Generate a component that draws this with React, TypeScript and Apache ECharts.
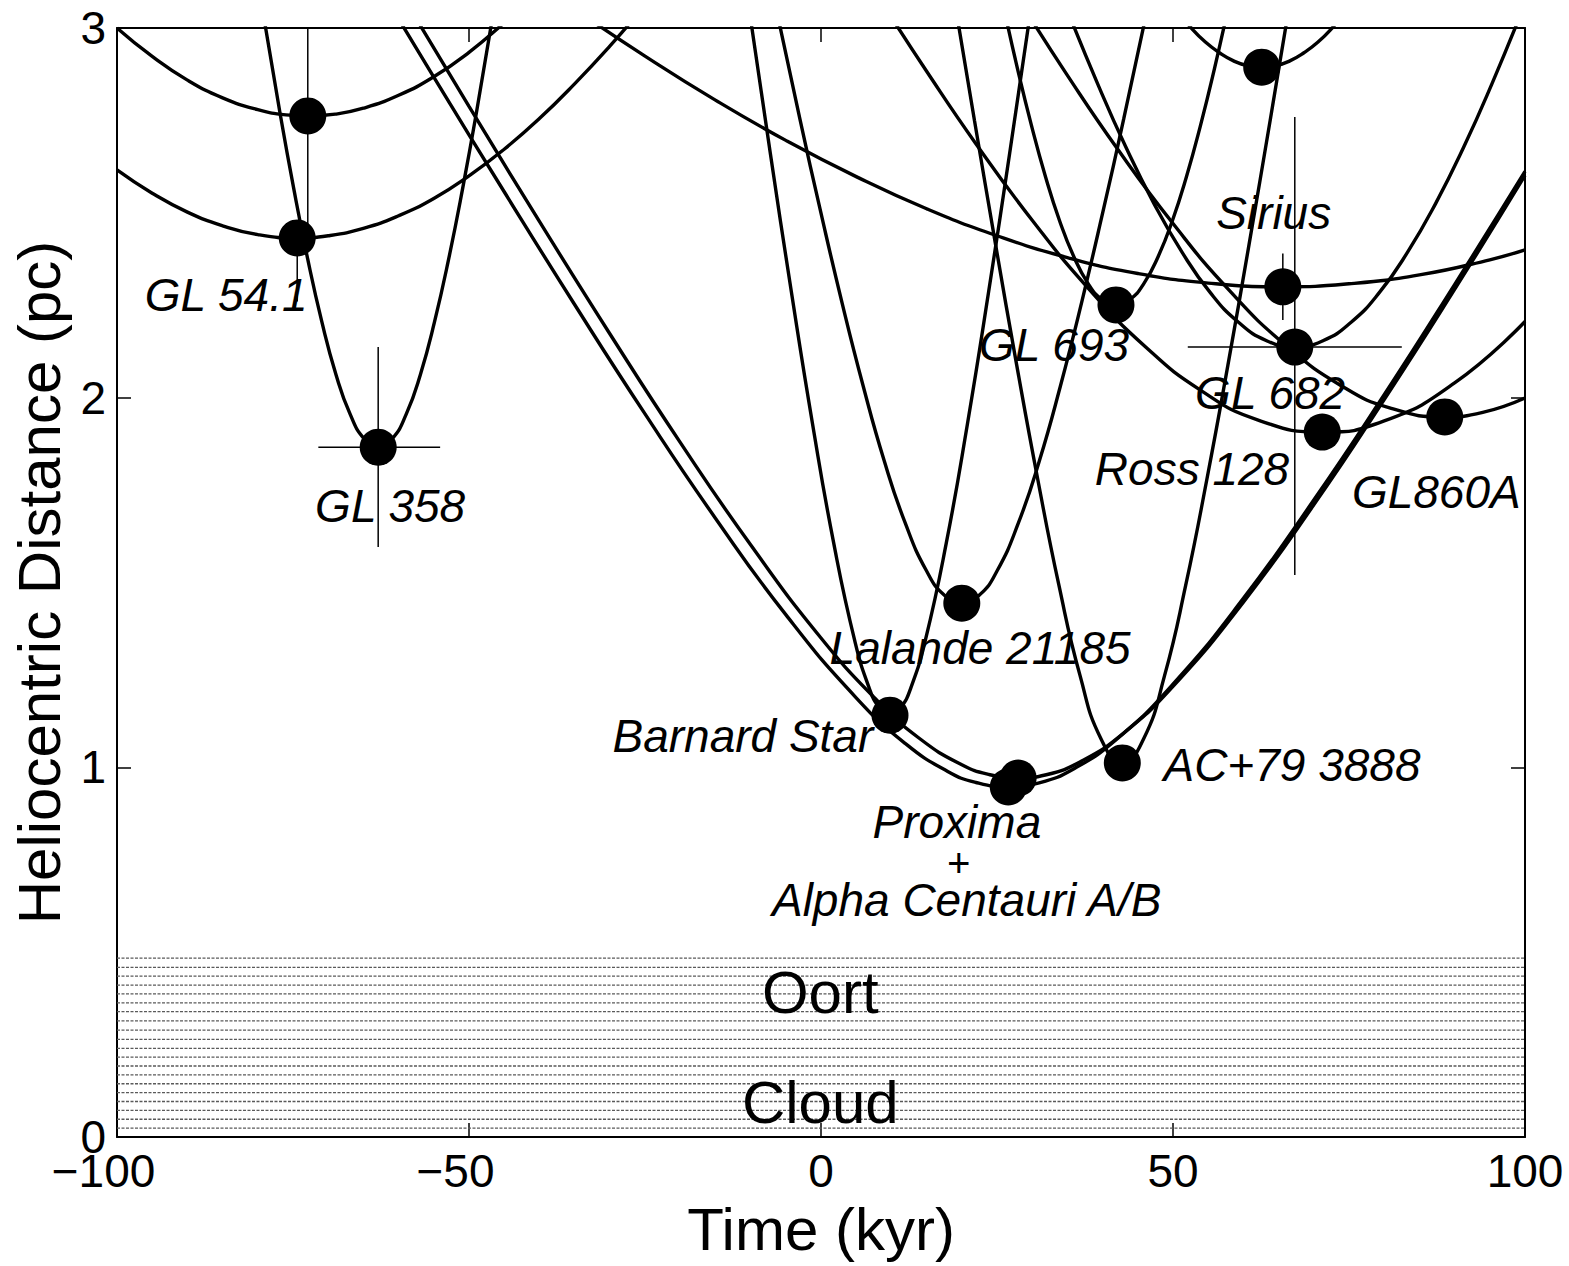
import React, { useEffect, useRef } from 'react';
import * as echarts from 'echarts';

const FONT = '"Liberation Sans", Arial, Helvetica, sans-serif';

// ---- axis ticks ----
const xTicks = [-100, -50, 0, 50, 100];
const yTicks = [0, 1, 2, 3];

// ---- heliocentric distance curves, [time kyr, distance pc] ----
const curveUpperLeft = [[-100, 3.0], [-95, 2.923], [-90, 2.859], [-85, 2.811], [-80, 2.779], [-76, 2.765], [-72.9, 2.762], [-69, 2.767], [-65, 2.783], [-60, 2.818], [-55, 2.868], [-50, 2.934], [-45, 3.014], [-43, 3.049]];
const curveGL54 = [[-100, 2.616], [-95, 2.553], [-90, 2.502], [-85, 2.465], [-80, 2.441], [-74.4, 2.432], [-70, 2.438], [-65, 2.458], [-60, 2.492], [-55, 2.539], [-50, 2.6], [-45, 2.672], [-40, 2.755], [-35, 2.849], [-30, 2.951], [-25.5, 3.05]];
const curveGL358 = [[-79.33, 3.05], [-76.9, 2.776], [-74.9, 2.566], [-72.9, 2.374], [-70.9, 2.205], [-68.9, 2.063], [-66.9, 1.956], [-64.9, 1.889], [-62.9, 1.866], [-60.9, 1.889], [-58.9, 1.956], [-56.9, 2.063], [-54.9, 2.205], [-52.9, 2.374], [-50.9, 2.566], [-48.9, 2.776], [-46.47, 3.05]];
const curveBarnard = [[-10.2, 3.05], [-7.2, 2.661], [-4.2, 2.285], [-1.2, 1.929], [1.8, 1.607], [4.8, 1.342], [6.8, 1.217], [8.3, 1.161], [9.8, 1.141], [11.3, 1.161], [12.8, 1.217], [14.8, 1.342], [17.8, 1.607], [20.8, 1.929], [23.8, 2.285], [26.8, 2.661], [29.8, 3.05]];
const curveLalande = [[-6.34, 3.05], [-3, 2.754], [0, 2.499], [3, 2.256], [6, 2.031], [9, 1.828], [12, 1.659], [15, 1.531], [17.5, 1.466], [20, 1.444], [22.5, 1.466], [25, 1.531], [28, 1.659], [31, 1.828], [34, 2.031], [37, 2.256], [40, 2.499], [43, 2.754], [46.34, 3.05]];
const curveProxima = [[-61, 3.056], [-55, 2.867], [-45, 2.557], [-35, 2.252], [-25, 1.956], [-15, 1.674], [-5, 1.413], [5, 1.188], [12, 1.064], [18, 0.989], [22, 0.959], [26.6, 0.947], [31, 0.958], [36, 0.997], [42, 1.076], [50, 1.225], [60, 1.457], [70, 1.723], [80, 2.008], [90, 2.306], [100, 2.612]];
const curveAlphaCen = [[-58, 3.041], [-50, 2.788], [-40, 2.477], [-30, 2.173], [-20, 1.879], [-10, 1.602], [0, 1.35], [8, 1.18], [14, 1.078], [20, 1.007], [24, 0.98], [28, 0.971], [32, 0.98], [37, 1.017], [43, 1.093], [50, 1.219], [60, 1.447], [70, 1.71], [80, 1.995], [90, 2.293], [100, 2.601]];
const curveAC79 = [[19.17, 3.05], [21.8, 2.75], [24.8, 2.414], [27.8, 2.088], [30.8, 1.778], [33.8, 1.492], [36.8, 1.248], [39.8, 1.076], [42.8, 1.012], [45.8, 1.076], [48.8, 1.248], [51.8, 1.492], [54.8, 1.778], [57.8, 2.088], [60.8, 2.414], [63.8, 2.75], [66.43, 3.05]];
const curveGL693 = [[26.02, 3.05], [27.9, 2.891], [29.9, 2.736], [31.9, 2.597], [33.9, 2.478], [35.9, 2.382], [37.9, 2.31], [39.9, 2.266], [41.9, 2.251], [43.9, 2.266], [45.9, 2.31], [47.9, 2.382], [49.9, 2.478], [51.9, 2.597], [53.9, 2.736], [55.9, 2.891], [57.78, 3.05]];
const curveUpperRight = [[50.42, 3.05], [52.6, 3.0], [54.6, 2.962], [56.6, 2.933], [58.6, 2.911], [60.6, 2.898], [62.6, 2.894], [64.6, 2.898], [66.6, 2.911], [68.6, 2.933], [70.6, 2.962], [72.6, 3.0], [74.78, 3.05]];
const curveSirius = [[-35, 3.051], [-25, 2.924], [-15, 2.805], [-5, 2.696], [5, 2.598], [15, 2.511], [25, 2.438], [35, 2.379], [45, 2.336], [55, 2.31], [65.6, 2.3], [75, 2.308], [85, 2.332], [95, 2.373], [100, 2.4]];
const curveGL682 = [[34.95, 3.05], [39.3, 2.849], [43.3, 2.678], [47.3, 2.525], [51.3, 2.393], [55.3, 2.284], [59.3, 2.204], [63.3, 2.154], [67.3, 2.137], [71.3, 2.154], [75.3, 2.204], [79.3, 2.284], [83.3, 2.393], [87.3, 2.525], [91.3, 2.678], [95.3, 2.849], [99.65, 3.05]];
const curveRoss128 = [[9.3, 3.05], [15, 2.883], [22, 2.687], [30, 2.48], [38, 2.295], [46, 2.139], [54, 2.019], [62, 1.94], [71.2, 1.907], [80, 1.937], [90, 2.04], [100, 2.206]];
const curveGL860A = [[29, 3.05], [35, 2.872], [42, 2.676], [50, 2.471], [58, 2.29], [66, 2.142], [74, 2.031], [81, 1.971], [88.6, 1.948], [94, 1.96], [100, 1.999]];

// ---- closest-approach points [time, distance] ----
const closestApproach = [[-72.9, 2.762], [-74.4, 2.432], [-62.9, 1.866], [20.0, 1.444], [9.8, 1.141], [26.6, 0.947], [28.0, 0.971], [42.8, 1.012], [41.9, 2.251], [62.6, 2.894], [65.6, 2.3], [67.3, 2.137], [71.2, 1.907], [88.6, 1.948]];

// ---- error bars: [time, distance, low, high] ----
const timeErrors = [[-62.9, 1.866, -71.4, -54.1], [67.3, 2.137, 52.1, 82.5]];
const distanceErrors = [[-72.9, 2.762, 2.445, 3.0], [-74.4, 2.432, 2.26, 2.47], [-62.9, 1.866, 1.596, 2.137], [65.6, 2.3, 2.21, 2.39], [67.3, 2.137, 1.52, 2.759]];

// ---- Oort cloud hatching levels (pc) ----
const oortLevels = [0.024, 0.048, 0.072, 0.096, 0.12, 0.144, 0.168, 0.192, 0.216, 0.24, 0.264, 0.289, 0.314, 0.339, 0.363, 0.387, 0.411, 0.435, 0.459, 0.484];

// ---- annotations ----
const starLabelNames = ['GL 54.1', 'GL 358', 'Lalande 21185', 'Barnard Star', 'AC+79 3888', 'Proxima', 'Alpha Centauri A/B', 'GL 693', 'Sirius', 'GL 682', 'Ross 128', 'GL860A'];
const starLabelAt = [[-84.5, 2.278], [-61.2, 1.707], [22.6, 1.323], [-11.1, 1.085], [66.9, 1.006], [19.3, 0.851], [20.7, 0.64], [33.1, 2.142], [64.3, 2.5], [63.8, 2.013], [52.7, 1.807], [87.4, 1.745]];
const joinLabelNames = ['+'];
const joinLabelAt = [[19.5, 0.741]];
const regionLabelNames = ['Oort', 'Cloud'];
const regionLabelAt = [[-0.1, 0.39], [-0.1, 0.092]];

const curves = [curveUpperLeft, curveGL54, curveGL358, curveBarnard, curveLalande, curveProxima, curveAlphaCen, curveAC79, curveGL693, curveUpperRight, curveSirius, curveGL682, curveRoss128, curveGL860A];

const labelSeries = (names: string[], at: number[][], style: any) => ({
  type: 'scatter',
  data: names.map((n, i) => ({ name: n, value: at[i] })),
  symbolSize: 1,
  itemStyle: { color: 'rgba(0,0,0,0)', opacity: 1 },
  silent: true,
  label: { show: true, position: 'inside', formatter: '{b}', fontFamily: FONT, color: '#000', ...style },
  labelLayout: { hideOverlap: false },
  z: 6,
});

export default function App() {
  const ref = useRef<HTMLDivElement>(null);
  useEffect(() => {
    const chart = echarts.init(ref.current!, null, { renderer: 'svg' });

    const lineSeries = curves.map((pts) => ({
      type: 'line',
      data: pts,
      showSymbol: false,
      smooth: 0.5,
      silent: true,
      clip: true,
      lineStyle: { color: '#000', width: 3.4 },
      z: 3,
    }));

    const axisCommon = {
      axisLine: { show: true, onZero: false, lineStyle: { color: '#000', width: 2 } },
      axisTick: { show: true, inside: true, length: 14, lineStyle: { color: '#000', width: 1.5 } },
      splitLine: { show: false },
    };

    chart.setOption({
      animation: false,
      backgroundColor: '#fff',
      grid: { left: 117, top: 28, width: 1408, height: 1109, containLabel: false },
      xAxis: [
        {
          type: 'value', min: -100, max: 100, interval: 50, position: 'bottom',
          ...axisCommon,
          axisLabel: {
            show: true, margin: 16, fontSize: 46, lineHeight: 36, fontFamily: FONT, color: '#000',
            formatter: (v: number) => (v < 0 ? `{a|\u2212${Math.abs(v)}}{p|}` : `${v}`),
            rich: { a: { fontSize: 46, lineHeight: 36, fontFamily: FONT, color: '#000' }, p: { width: 27, lineHeight: 36 } },
          },
          name: 'Time (kyr)', nameLocation: 'middle', nameGap: 62,
          nameTextStyle: { fontSize: 60, fontFamily: FONT, color: '#000' },
        },
        {
          type: 'value', min: -100, max: 100, interval: 50, position: 'top',
          ...axisCommon, axisLabel: { show: false },
        },
      ],
      yAxis: [
        {
          type: 'value', min: 0, max: 3, interval: 1, position: 'left',
          ...axisCommon,
          axisLabel: { show: true, margin: 11, fontSize: 46, lineHeight: 34, fontFamily: FONT, color: '#000' },
          name: 'Heliocentric Distance (pc)', nameLocation: 'middle', nameGap: 40,
          nameTextStyle: { fontSize: 60, fontFamily: FONT, color: '#000' },
        },
        {
          type: 'value', min: 0, max: 3, interval: 1, position: 'right',
          ...axisCommon, axisLabel: { show: false },
        },
      ],
      series: [
        {
          type: 'custom',
          silent: true,
          clip: true,
          data: oortLevels.map((v) => [0, v]),
          encode: { x: 0, y: 1 },
          renderItem: (_p: any, api: any) => {
            const d = api.value(1);
            const a = api.coord([-100, d]);
            const b = api.coord([100, d]);
            return {
              type: 'line',
              shape: { x1: a[0], y1: a[1], x2: b[0], y2: b[1] },
              style: { stroke: '#5a5a5a', lineWidth: 1.3, lineDash: [3, 1.5] },
            };
          },
          z: 1,
        },
        ...lineSeries,
        {
          type: 'custom',
          silent: true,
          clip: true,
          data: timeErrors,
          encode: { x: 0, y: 1 },
          renderItem: (_p: any, api: any) => {
            const a = api.coord([api.value(2), api.value(1)]);
            const b = api.coord([api.value(3), api.value(1)]);
            return { type: 'line', shape: { x1: a[0], y1: a[1], x2: b[0], y2: b[1] }, style: { stroke: '#000', lineWidth: 1.5 } };
          },
          z: 4,
        },
        {
          type: 'custom',
          silent: true,
          clip: true,
          data: distanceErrors,
          encode: { x: 0, y: 1 },
          renderItem: (_p: any, api: any) => {
            const a = api.coord([api.value(0), api.value(2)]);
            const b = api.coord([api.value(0), api.value(3)]);
            return { type: 'line', shape: { x1: a[0], y1: a[1], x2: b[0], y2: b[1] }, style: { stroke: '#000', lineWidth: 1.5 } };
          },
          z: 4,
        },
        {
          type: 'scatter',
          data: closestApproach,
          symbol: 'circle',
          symbolSize: 37,
          itemStyle: { color: '#000', opacity: 1 },
          silent: true,
          z: 5,
        },
        labelSeries(starLabelNames, starLabelAt, { fontStyle: 'italic', fontSize: 46, lineHeight: 36 }),
        labelSeries(joinLabelNames, joinLabelAt, { fontStyle: 'italic', fontSize: 40, lineHeight: 30 }),
        labelSeries(regionLabelNames, regionLabelAt, { fontSize: 60 }),
      ],
    });
    return () => chart.dispose();
  }, []);
  return <div ref={ref} style={{ position: 'fixed', left: 0, top: 0, width: 1569, height: 1266, background: '#fff' }} />;
}
